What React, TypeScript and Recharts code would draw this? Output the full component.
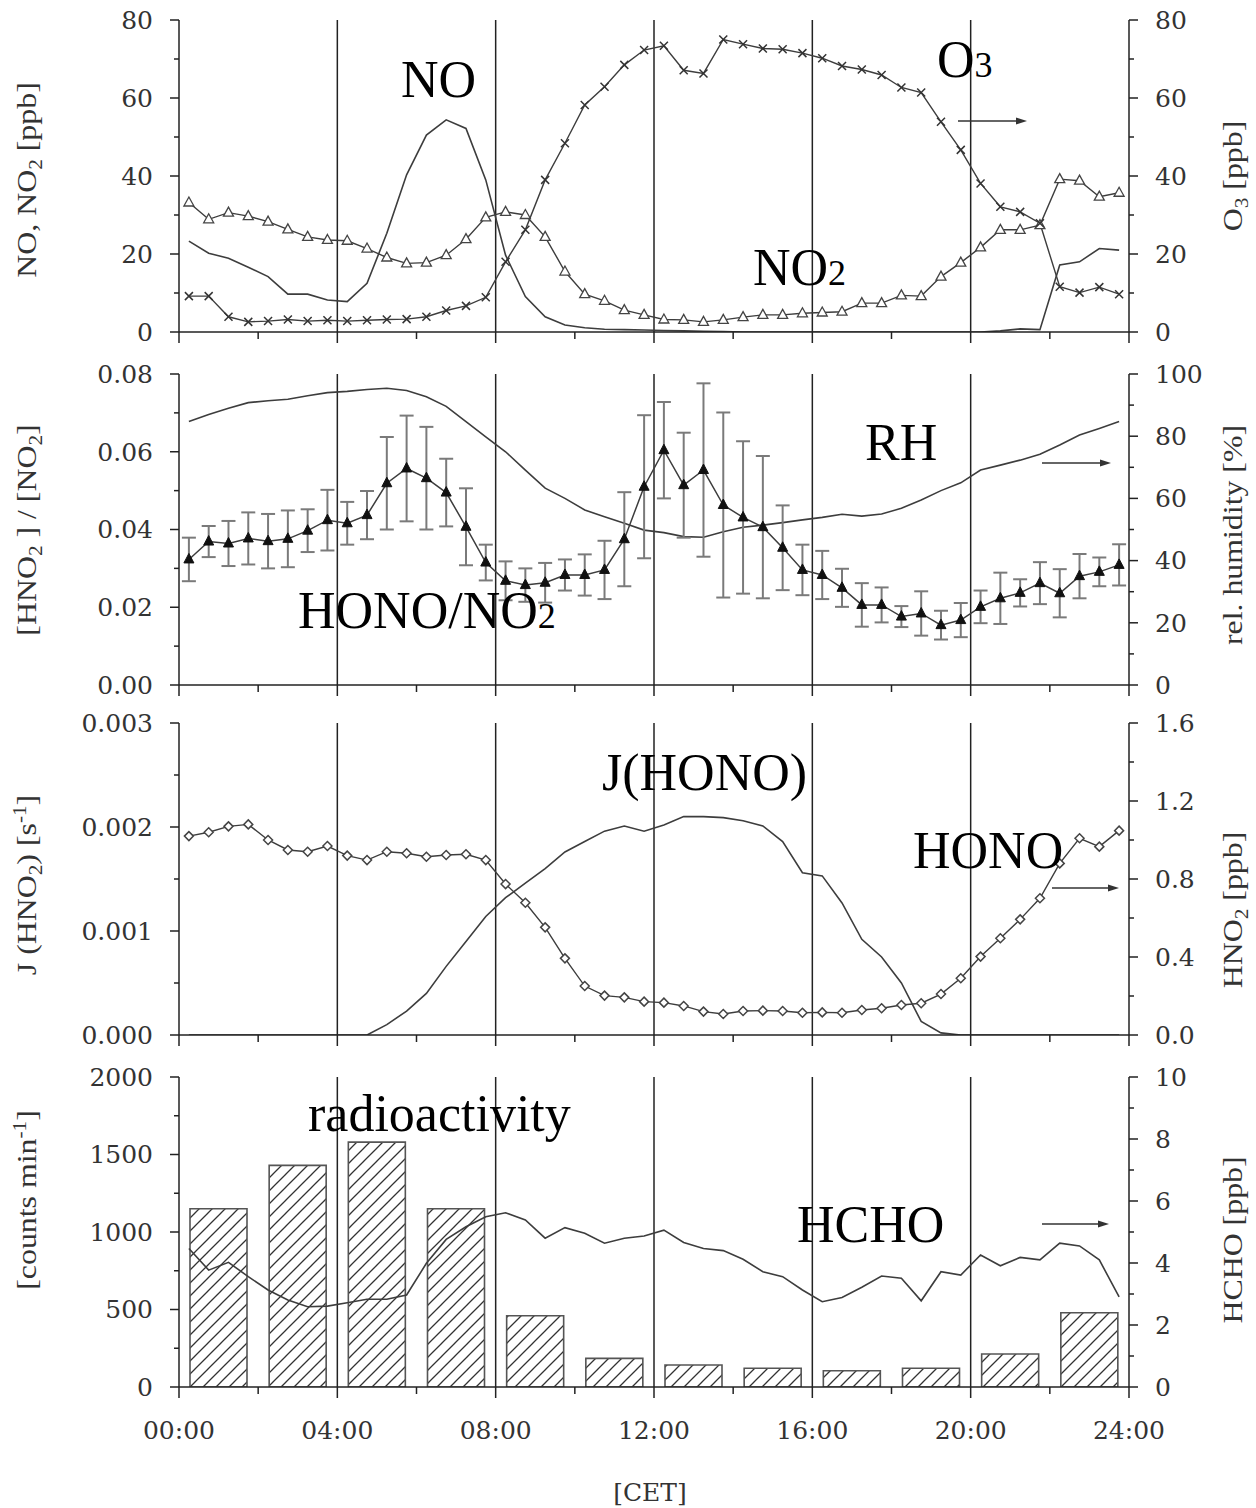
import React from "react"
import { ComposedChart, Line, Bar, XAxis, YAxis, ReferenceLine, ErrorBar } from "recharts"

// half-hourly time stamps (hours CET)
const halfHours = [
  0.25, 0.75, 1.25, 1.75, 2.25, 2.75, 3.25, 3.75, 4.25, 4.75, 5.25, 5.75,
  6.25, 6.75, 7.25, 7.75, 8.25, 8.75, 9.25, 9.75, 10.25, 10.75, 11.25, 11.75,
  12.25, 12.75, 13.25, 13.75, 14.25, 14.75, 15.25, 15.75, 16.25, 16.75, 17.25, 17.75,
  18.25, 18.75, 19.25, 19.75, 20.25, 20.75, 21.25, 21.75, 22.25, 22.75, 23.25, 23.75,
]

// panel 1
const no = [
  23.3, 20.2, 18.9, 16.6, 14.2, 9.7, 9.7, 8.2, 7.8, 12.5, 25.3, 40.3,
  50.5, 54.4, 52.2, 39, 19.7, 9.1, 3.9, 1.8, 1.1, 0.7, 0.6, 0.5,
  0.4, 0.3, 0.2, 0.1, 0, 0, 0, 0, 0, 0, 0, 0,
  0, 0, 0, 0, 0, 0.3, 0.8, 0.6, 17.2, 18, 21.4, 21,
]
const no2 = [
  33.2, 28.9, 30.6, 29.7, 28.3, 26.3, 24.4, 23.6, 23.4, 21.4, 19.1, 17.6,
  17.8, 19.7, 23.8, 29.4, 30.8, 30, 24.4, 15.5, 9.7, 8.0, 5.6, 4.4,
  3.2, 3.1, 2.6, 3.1, 3.8, 4.4, 4.4, 4.8, 5.0, 5.2, 7.4, 7.4,
  9.4, 9.2, 14.2, 17.8, 21.7, 26.2, 26.2, 27.4, 39.2, 38.8, 34.7, 35.7,
]
const o3 = [
  9.2, 9.2, 3.9, 2.6, 2.8, 3.2, 2.8, 3.0, 2.8, 3.0, 3.2, 3.3,
  3.9, 5.5, 6.7, 8.9, 18, 26.2, 39, 48.4, 58.2, 62.9, 68.5, 72.3,
  73.4, 67.1, 66.3, 75, 73.8, 72.7, 72.5, 71.5, 70.2, 68.2, 67.3, 65.9,
  62.7, 61.4, 53.9, 46.7, 38.1, 32.1, 30.8, 27.9, 11.6, 10.1, 11.5, 9.7,
]

// panel 2
const ratio = [
  0.0323, 0.0369, 0.0364, 0.0377, 0.037, 0.0376, 0.0397, 0.0424, 0.0416, 0.0437, 0.0519, 0.0557,
  0.0532, 0.0495, 0.0407, 0.0315, 0.0268, 0.0257, 0.0263, 0.0283, 0.0283, 0.0296, 0.0375, 0.051,
  0.0604, 0.0514, 0.0553, 0.0463, 0.0431, 0.0406, 0.0353, 0.0296, 0.0283, 0.025, 0.0206, 0.0206,
  0.0176, 0.0184, 0.0154, 0.0167, 0.0201, 0.0223, 0.0237, 0.0262, 0.0236, 0.028, 0.0291, 0.0309,
]
const ratioErr = [
  0.0056, 0.004, 0.0058, 0.0067, 0.007, 0.0073, 0.0055, 0.0078, 0.0055, 0.0062, 0.0119, 0.0136,
  0.0132, 0.0087, 0.0099, 0.0046, 0.005, 0.0043, 0.0051, 0.004, 0.0053, 0.0075, 0.0121, 0.0184,
  0.0124, 0.0135, 0.0223, 0.0238, 0.0196, 0.0183, 0.0109, 0.0065, 0.0062, 0.0049, 0.0056, 0.0045,
  0.0027, 0.0057, 0.0037, 0.0044, 0.0042, 0.0066, 0.0035, 0.0054, 0.0062, 0.0057, 0.0037, 0.0053,
]
const rh = [
  84.7, 87.0, 89.0, 90.8, 91.4, 91.9, 93.0, 94.0, 94.4, 95.0, 95.4, 94.7,
  92.7, 89.6, 84.7, 79.8, 75, 69.1, 63.3, 60, 56.3, 54.1, 52, 49.8,
  49, 47.7, 47.5, 49.3, 50.7, 51.4, 52.2, 53.1, 53.9, 54.9, 54.3, 55,
  56.8, 59.5, 62.5, 65, 69.1, 70.7, 72.3, 74.2, 77.2, 80.4, 82.5, 84.7,
]

// panel 3
const jHono = [
  0, 0, 0, 0, 0, 0, 0, 0, 0, 0, 0.0001, 0.00023,
  0.0004, 0.00066, 0.0009, 0.00114, 0.00132, 0.00146, 0.0016, 0.00176, 0.00186, 0.00196, 0.00201, 0.00196,
  0.00202, 0.0021, 0.0021, 0.00209, 0.00206, 0.00201, 0.00186, 0.00156, 0.00153, 0.00127, 0.00092, 0.00075,
  0.0005, 0.00013, 0.00002, 0, 0, 0, 0, 0, 0, 0, 0, 0,
]
const hono = [
  1.02, 1.04, 1.07, 1.08, 1.0, 0.949, 0.94, 0.969, 0.92, 0.897, 0.94, 0.932,
  0.914, 0.923, 0.927, 0.897, 0.774, 0.678, 0.552, 0.393, 0.251, 0.202, 0.193, 0.171,
  0.166, 0.149, 0.12, 0.108, 0.123, 0.125, 0.123, 0.114, 0.116, 0.114, 0.128, 0.137,
  0.154, 0.163, 0.21, 0.291, 0.402, 0.496, 0.593, 0.701, 0.88, 1.009, 0.966, 1.048,
]

// panel 4
const hcho = [
  4.47, 3.77, 4.02, 3.56, 3.13, 2.81, 2.59, 2.61, 2.72, 2.83, 2.83, 2.97,
  3.99, 4.76, 5.17, 5.49, 5.62, 5.39, 4.8, 5.14, 4.96, 4.64, 4.8, 4.87,
  5.06, 4.66, 4.47, 4.4, 4.12, 3.72, 3.56, 3.13, 2.75, 2.89, 3.22, 3.58,
  3.51, 2.78, 3.72, 3.61, 4.26, 3.91, 4.18, 4.1, 4.64, 4.55, 4.1, 2.91,
]
const barHours = [1, 3, 5, 7, 9, 11, 13, 15, 17, 19, 21, 23]
const radioactivity = [1150, 1430, 1580, 1150, 460, 185, 142, 121, 105, 121, 213, 479]

// axis ticks
const xTicks = [0, 2, 4, 6, 8, 10, 12, 14, 16, 18, 20, 22, 24]
const xMajor = [0, 4, 8, 12, 16, 20, 24]
const gridHours = [4, 8, 12, 16, 20]

const ppbTicks = [0, 10, 20, 30, 40, 50, 60, 70, 80]
const ppbMajor = [0, 20, 40, 60, 80]
const ratioTicks = [0, 0.01, 0.02, 0.03, 0.04, 0.05, 0.06, 0.07, 0.08]
const ratioMajor = [0, 0.02, 0.04, 0.06, 0.08]
const rhTicks = [0, 10, 20, 30, 40, 50, 60, 70, 80, 90, 100]
const rhMajor = [0, 20, 40, 60, 80, 100]
const jTicks = [0, 0.0005, 0.001, 0.0015, 0.002, 0.0025, 0.003]
const jMajor = [0, 0.001, 0.002, 0.003]
const honoTicks = [0, 0.2, 0.4, 0.6, 0.8, 1.0, 1.2, 1.4, 1.6]
const honoMajor = [0, 0.4, 0.8, 1.2, 1.6]
const countTicks = [0, 250, 500, 750, 1000, 1250, 1500, 1750, 2000]
const countMajor = [0, 500, 1000, 1500, 2000]
const hchoTicks = [0, 1, 2, 3, 4, 5, 6, 7, 8, 9, 10]
const hchoMajor = [0, 2, 4, 6, 8, 10]

const panel1 = halfHours.map((t, i) => ({ t, no: no[i], no2: no2[i], o3: o3[i] }))
const panel2 = halfHours.map((t, i) => ({ t, ratio: ratio[i], ratioErr: ratioErr[i], rh: rh[i] }))
const panel3 = halfHours.map((t, i) => ({ t, j: jHono[i], hono: hono[i] }))
const panel4 = halfHours.map((t, i) => ({ t, hcho: hcho[i] }))
const barData = barHours.map((t, i) => ({ t, counts: radioactivity[i] }))

const ink = "#222"
const lineColor = "#3d3d3d"
const serif = "'Liberation Serif', 'Times New Roman', serif"
const tickFont = { fontFamily: "'DejaVu Serif', serif", fontSize: 25, fill: "#333" }
const margin = { top: 20, right: 27, left: 79, bottom: 0 }

const has = (list: number[], v: number) => list.some((m) => Math.abs(m - v) < 1e-9)
const hourLabel = (h: number) => `${String(h).padStart(2, "0")}:00`

// tick marks drawn by hand so minor ticks can be shorter
const makeXTick = (withLabels: boolean) => (p: any) => {
  const { x, y, payload } = p
  const major = has(xMajor, payload.value)
  return (
    <g>
      <line x1={x} x2={x} y1={y} y2={y + (major ? 11 : 7)} stroke={ink} strokeWidth={1.5} />
      {withLabels && major && (
        <text x={x} y={y + 43} dy="0.35em" textAnchor="middle" {...tickFont}>
          {hourLabel(payload.value)}
        </text>
      )}
    </g>
  )
}

const makeYTick = (side: "left" | "right", majors: number[], fmt: (v: number) => string) => (p: any) => {
  const { x, y, payload } = p
  const major = has(majors, payload.value)
  const len = major ? 9 : 5
  const dir = side === "left" ? -1 : 1
  return (
    <g>
      <line x1={x} x2={x + dir * len} y1={y} y2={y} stroke={ink} strokeWidth={1.5} />
      {major && (
        <text x={x + dir * 26} y={y} dy="0.35em" textAnchor={side === "left" ? "end" : "start"} {...tickFont}>
          {fmt(payload.value)}
        </text>
      )}
    </g>
  )
}

const renderXAxis = (withLabels: boolean, height: number) => (
  <XAxis
    dataKey="t"
    type="number"
    domain={[0, 24]}
    ticks={xTicks}
    interval={0}
    allowDataOverflow
    tickSize={0}
    tickMargin={0}
    tickLine={false}
    axisLine={{ stroke: ink, strokeWidth: 1.5 }}
    tick={makeXTick(withLabels)}
    height={height}
  />
)

const renderYAxis = (
  id: string,
  side: "left" | "right",
  domain: [number, number],
  ticks: number[],
  majors: number[],
  fmt: (v: number) => string
) => (
  <YAxis
    yAxisId={id}
    orientation={side}
    type="number"
    domain={domain}
    ticks={ticks}
    interval={0}
    allowDataOverflow
    tickSize={0}
    tickMargin={0}
    tickLine={false}
    axisLine={{ stroke: ink, strokeWidth: 1.5 }}
    tick={makeYTick(side, majors, fmt)}
    width={100}
  />
)

const renderVerticals = () =>
  gridHours.map((h) => <ReferenceLine key={h} x={h} yAxisId="left" stroke={ink} strokeWidth={1.5} />)

// markers
const OpenTriangle = (p: any) => {
  const { cx, cy } = p
  if (cx == null || cy == null) return null
  return <path d={`M${cx},${cy - 5.5}L${cx + 5},${cy + 3.5}L${cx - 5},${cy + 3.5}Z`} fill="#fff" stroke="#444" strokeWidth={1.3} />
}
const FilledTriangle = (p: any) => {
  const { cx, cy } = p
  if (cx == null || cy == null) return null
  return <path d={`M${cx},${cy - 6}L${cx + 5},${cy + 3.5}L${cx - 5},${cy + 3.5}Z`} fill="#111" stroke="#111" strokeWidth={1} />
}
const Cross = (p: any) => {
  const { cx, cy } = p
  if (cx == null || cy == null) return null
  const s = 4
  return (
    <path
      d={`M${cx - s},${cy - s}L${cx + s},${cy + s}M${cx - s},${cy + s}L${cx + s},${cy - s}`}
      stroke="#333"
      strokeWidth={1.5}
      fill="none"
    />
  )
}
const Diamond = (p: any) => {
  const { cx, cy } = p
  if (cx == null || cy == null) return null
  return <path d={`M${cx},${cy - 4.5}L${cx + 4.5},${cy}L${cx},${cy + 4.5}L${cx - 4.5},${cy}Z`} fill="#fff" stroke="#444" strokeWidth={1.5} />
}

const Arrow = ({ x1, x2, y }: { x1: number; x2: number; y: number }) => (
  <g>
    <line x1={x1} x2={x2 - 6} y1={y} y2={y} stroke="#333" strokeWidth={1.6} />
    <path d={`M${x2},${y}L${x2 - 11},${y - 3.5}L${x2 - 11},${y + 3.5}Z`} fill="#333" />
  </g>
)

const Small = ({ children }: { children: React.ReactNode }) => <tspan fontSize={36}>{children}</tspan>

type Seg = { text: string; shift?: number }

// rotated axis title; x is the baseline position, segments carry sub/superscripts
const VTitle = ({ x, y, segs }: { x: number; y: number; segs: Seg[] }) => {
  let prev = 0
  return (
    <text
      transform={`translate(${x} ${y}) rotate(-90) scale(1.18 1)`}
      textAnchor="middle"
      fontFamily={serif}
      fontSize={27}
      fill="#333"
    >
      {segs.map((s, i) => {
        const shift = s.shift ?? 0
        const dy = shift - prev
        prev = shift
        return (
          <tspan key={i} dy={dy} fontSize={shift ? 18 : undefined}>
            {s.text}
          </tspan>
        )
      })}
    </text>
  )
}

const labelProps = { fontFamily: serif, fontSize: 52, fill: "#000" }

export default function App() {
  return (
    <div style={{ position: "absolute", left: 0, top: 0, width: 1256, height: 1508, background: "#fff" }}>
      <svg width={0} height={0} style={{ position: "absolute" }}>
        <defs>
          <pattern id="hatch" patternUnits="userSpaceOnUse" width={13} height={13}>
            <path d="M0,13L13,0M-4,4L4,-4M9,17L17,9" stroke="#333" strokeWidth={1.3} />
          </pattern>
        </defs>
      </svg>

      {/* radioactivity bars, under the HCHO panel */}
      <div style={{ position: "absolute", left: 0, top: 1057 }}>
        <ComposedChart width={1256} height={445} data={barData} margin={{ top: 20, right: 127, left: 179, bottom: 115 }}>
          <XAxis dataKey="t" type="number" domain={[0, 24]} hide allowDataOverflow />
          <YAxis type="number" domain={[0, 2000]} hide allowDataOverflow />
          <Bar dataKey="counts" barSize={57} fill="url(#hatch)" stroke="#555" strokeWidth={1.6} isAnimationActive={false} />
        </ComposedChart>
      </div>

      {/* NO, NO2, O3 */}
      <div style={{ position: "absolute", left: 0, top: 0 }}>
        <ComposedChart width={1256} height={352} data={panel1} margin={margin}>
          {renderXAxis(false, 20)}
          {renderYAxis("left", "left", [0, 80], ppbTicks, ppbMajor, (v) => String(v))}
          {renderYAxis("right", "right", [0, 80], ppbTicks, ppbMajor, (v) => String(v))}
          {renderVerticals()}
          <Line yAxisId="left" dataKey="no" type="linear" stroke={lineColor} strokeWidth={1.6} dot={false} isAnimationActive={false} />
          <Line yAxisId="left" dataKey="no2" type="linear" stroke={lineColor} strokeWidth={1.4} dot={<OpenTriangle />} isAnimationActive={false} />
          <Line yAxisId="right" dataKey="o3" type="linear" stroke={lineColor} strokeWidth={1.4} dot={<Cross />} isAnimationActive={false} />
        </ComposedChart>
      </div>

      {/* HONO/NO2 ratio and RH */}
      <div style={{ position: "absolute", left: 0, top: 354 }}>
        <ComposedChart width={1256} height={351} data={panel2} margin={margin}>
          {renderXAxis(false, 20)}
          {renderYAxis("left", "left", [0, 0.08], ratioTicks, ratioMajor, (v) => v.toFixed(2))}
          {renderYAxis("right", "right", [0, 100], rhTicks, rhMajor, (v) => String(v))}
          {renderVerticals()}
          <Line yAxisId="right" dataKey="rh" type="linear" stroke={lineColor} strokeWidth={1.6} dot={false} isAnimationActive={false} />
          <Line yAxisId="left" dataKey="ratio" type="linear" stroke={lineColor} strokeWidth={1.5} dot={<FilledTriangle />} isAnimationActive={false}>
            <ErrorBar dataKey="ratioErr" direction="y" width={7} stroke="#7a7a7a" strokeWidth={2} isAnimationActive={false} />
          </Line>
        </ComposedChart>
      </div>

      {/* J(HONO) and HONO */}
      <div style={{ position: "absolute", left: 0, top: 703 }}>
        <ComposedChart width={1256} height={352} data={panel3} margin={margin}>
          {renderXAxis(false, 20)}
          {renderYAxis("left", "left", [0, 0.003], jTicks, jMajor, (v) => v.toFixed(3))}
          {renderYAxis("right", "right", [0, 1.6], honoTicks, honoMajor, (v) => v.toFixed(1))}
          {renderVerticals()}
          <Line yAxisId="left" dataKey="j" type="linear" stroke={lineColor} strokeWidth={1.6} dot={false} isAnimationActive={false} />
          <Line yAxisId="right" dataKey="hono" type="linear" stroke={lineColor} strokeWidth={1.4} dot={<Diamond />} isAnimationActive={false} />
        </ComposedChart>
      </div>

      {/* HCHO (bars drawn by the chart underneath) */}
      <div style={{ position: "absolute", left: 0, top: 1057 }}>
        <ComposedChart width={1256} height={445} data={panel4} margin={margin}>
          {renderXAxis(true, 115)}
          {renderYAxis("left", "left", [0, 2000], countTicks, countMajor, (v) => String(v))}
          {renderYAxis("right", "right", [0, 10], hchoTicks, hchoMajor, (v) => String(v))}
          {renderVerticals()}
          <Line yAxisId="right" dataKey="hcho" type="linear" stroke={lineColor} strokeWidth={1.6} dot={false} isAnimationActive={false} />
        </ComposedChart>
      </div>

      {/* labels, arrows and axis titles */}
      <svg width={1256} height={1508} style={{ position: "absolute", left: 0, top: 0, pointerEvents: "none" }}>
        <text x={401} y={97} {...labelProps}>NO</text>
        <text x={937} y={77} {...labelProps}>O<Small>3</Small></text>
        <text x={753} y={285} {...labelProps}>NO<Small>2</Small></text>
        <Arrow x1={958} x2={1027} y={121} />

        <text x={865} y={460} {...labelProps}>RH</text>
        <text x={298} y={628} {...labelProps}>HONO/NO<Small>2</Small></text>
        <Arrow x1={1042} x2={1111} y={463} />

        <text x={602} y={790} {...labelProps}>J(HONO)</text>
        <text x={913} y={868} {...labelProps}>HONO</text>
        <Arrow x1={1052} x2={1119} y={888} />

        <text x={308} y={1131} {...labelProps}>radioactivity</text>
        <text x={797} y={1242} {...labelProps}>HCHO</text>
        <Arrow x1={1042} x2={1109} y={1224} />

        <VTitle x={36} y={180} segs={[{ text: "NO, NO" }, { text: "2", shift: 6 }, { text: " [ppb]" }]} />
        <VTitle
          x={36}
          y={530}
          segs={[{ text: "[HNO" }, { text: "2", shift: 6 }, { text: " ] / [NO" }, { text: "2", shift: 6 }, { text: "]" }]}
        />
        <VTitle
          x={36}
          y={885}
          segs={[{ text: "J (HNO" }, { text: "2", shift: 6 }, { text: ") [s" }, { text: "-1", shift: -10 }, { text: "]" }]}
        />
        <VTitle x={36} y={1200} segs={[{ text: "[counts min" }, { text: "-1", shift: -10 }, { text: "]" }]} />

        <VTitle x={1242} y={176} segs={[{ text: "O" }, { text: "3", shift: 6 }, { text: " [ppb]" }]} />
        <VTitle x={1242} y={535} segs={[{ text: "rel. humidity [%]" }]} />
        <VTitle x={1242} y={910} segs={[{ text: "HNO" }, { text: "2", shift: 6 }, { text: " [ppb]" }]} />
        <VTitle x={1242} y={1240} segs={[{ text: "HCHO [ppb]" }]} />

        <text x={650} y={1492} dy="0.35em" textAnchor="middle" fontFamily="'DejaVu Serif', serif" fontSize={25} fill="#333">
          [CET]
        </text>
      </svg>
    </div>
  )
}
